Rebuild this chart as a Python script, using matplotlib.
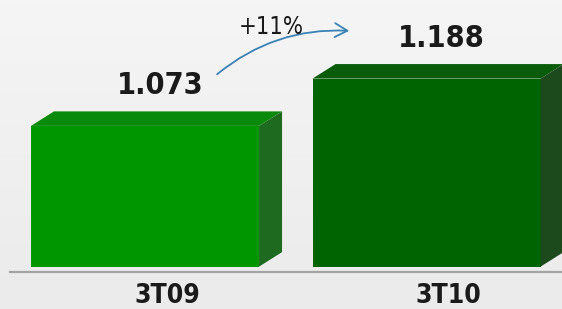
import matplotlib.pyplot as plt
from matplotlib.patches import Polygon
from matplotlib.colors import LinearSegmentedColormap
import numpy as np

# data
categories = ["3T09", "3T10"]
values = [1.073, 1.188]
value_labels = ["1.073", "1.188"]
growth_label = "+11%"

# style
front_colors = ["#009600", "#006400"]
top_colors = ["#0a8a0a", "#0a5c0a"]
side_colors = ["#1e6a1e", "#1d4a1d"]
base = 0.731
bar_width = 0.81
depth_x = 23 / 281.5
depth_y = 14.5 / 411
font = dict(family="DejaVu Sans", fontstretch="condensed")

fig = plt.figure(figsize=(5.62, 3.09), dpi=100)
fig.patch.set_facecolor("#efefef")
ax = fig.add_axes([0, 0, 1, 1])
ax.set_facecolor("#efefef")
ax.set_xlim(-0.515, 1.481)
ax.set_ylim(0.628, 1.379)
ax.axis("off")

# soft background gradient
grad = np.linspace(1, 0, 100).reshape(-1, 1)
ax.imshow(grad, extent=[-0.515, 1.481, 0.628, 1.379], aspect="auto",
          cmap=LinearSegmentedColormap.from_list("bg", ["#ebebeb", "#f5f5f5"]),
          zorder=0)

x = np.arange(len(categories))
ax.bar(x, np.array(values) - base, bottom=base, width=bar_width,
       color=front_colors, edgecolor="none", zorder=3)

for i, v in enumerate(values):
    left = x[i] - bar_width / 2
    right = x[i] + bar_width / 2
    top = Polygon([(left, v), (left + depth_x, v + depth_y),
                   (right + depth_x, v + depth_y), (right, v)],
                  closed=True, facecolor=top_colors[i],
                  edgecolor="none", zorder=3)
    side = Polygon([(right, base), (right + depth_x, base + depth_y),
                    (right + depth_x, v + depth_y), (right, v)],
                   closed=True, facecolor=side_colors[i],
                   edgecolor="none", zorder=3)
    ax.add_patch(top)
    ax.add_patch(side)
    ax.annotate(value_labels[i], (x[i], v), xytext=(15, 40),
                textcoords="offset pixels", ha="center", va="center",
                fontsize=22, fontweight="bold", color="#1a1a1a", zorder=5,
                **font)
    ax.annotate(categories[i], (x[i], base), xytext=(22, -29),
                textcoords="offset pixels", ha="center", va="center",
                fontsize=19, fontweight="bold", color="#1a1a1a", zorder=5,
                **font)

# baseline
ax.plot([-0.48, 1.481], [base - 5 / 411, base - 5 / 411],
        color="#a3a3a3", linewidth=1.6, zorder=2)

# growth arrow
ax.annotate("", xy=(352, 309 - 31), xytext=(215, 309 - 76),
            xycoords="figure pixels", textcoords="figure pixels",
            arrowprops=dict(arrowstyle="->,head_length=0.9,head_width=0.5",
                            color="#3a82b5", linewidth=1.3,
                            connectionstyle="arc3,rad=-0.2"), zorder=4)
fig.text(271 / 562, 1 - 27 / 309, growth_label, ha="center", va="center",
         fontsize=17, color="#1a1a1a", zorder=5, **font)

fig.savefig("out.png", dpi=100, facecolor=fig.get_facecolor())
